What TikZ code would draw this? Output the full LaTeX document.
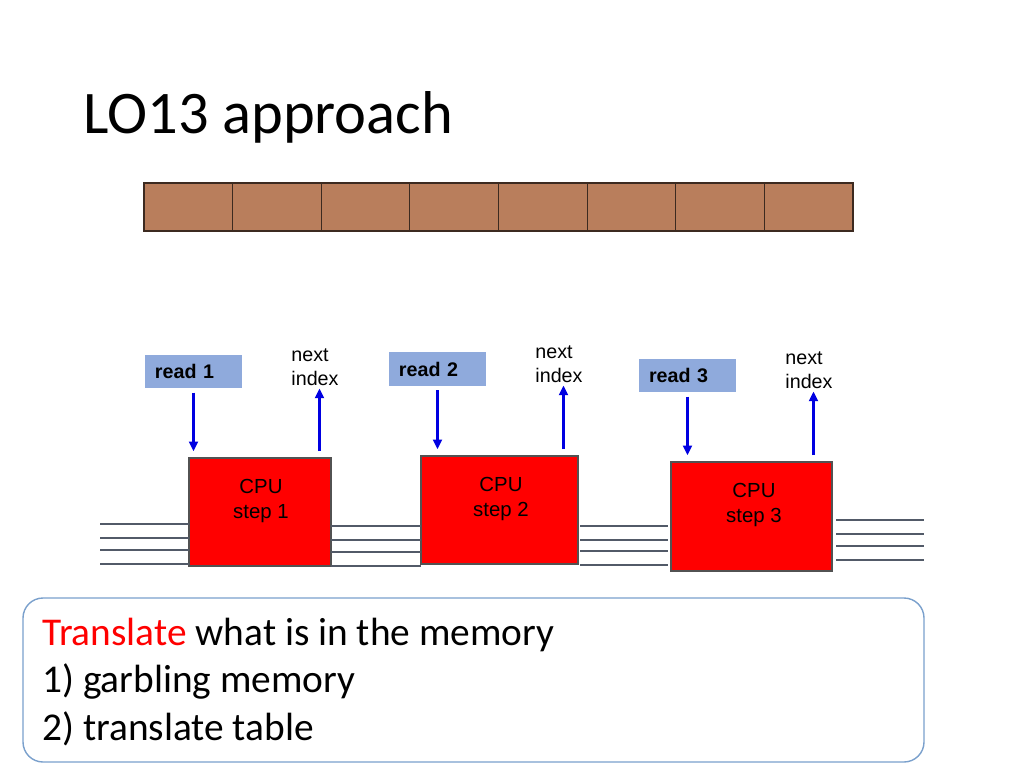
\documentclass[tikz,border=0pt]{standalone}
\usepackage{fontspec}
\setmainfont{Carlito}
\newfontfamily\arialfont{Liberation Sans}
\usetikzlibrary{arrows.meta}
\definecolor{cellbrown}{RGB}{185,126,92}
\definecolor{celledge}{RGB}{60,42,32}
\definecolor{readblue}{RGB}{143,170,220}
\definecolor{arrowblue}{RGB}{0,0,225}
\definecolor{busgray}{RGB}{82,90,104}
\definecolor{noteblue}{RGB}{122,160,204}

\begin{document}
\begin{tikzpicture}[x=0.025cm,y=-0.025cm,
  readbox/.style={fill=readblue,inner xsep=0.25cm,inner ysep=0pt,text width=1.925cm,
    align=left,minimum height=0.825cm,font=\arialfont\bfseries\fontsize{14}{17}\selectfont},
  cpubox/.style={fill=red,draw=black!68,line width=1.6pt,minimum height=2.7cm},
  cputext/.style={align=center,inner sep=0pt,font=\arialfont\fontsize{14.5}{17.7}\selectfont},
  nexttext/.style={align=left,inner sep=0pt,font=\arialfont\fontsize{14}{17}\selectfont},
  flow/.style={draw=arrowblue,line width=1.7pt,-{Triangle[length=2.4mm,width=2.2mm,fill=arrowblue]}},
  bus/.style={busgray,line width=1.1pt},
  noteline/.style={anchor=base west,inner sep=0pt,font=\fontsize{28}{33.5}\selectfont}]
  \useasboundingbox (0,0) rectangle (1024,768);
  \node[anchor=base west,inner sep=0pt,font=\fontsize{43}{50}\selectfont] (title) at (83,134) {LO13 approach};
  % memory cells
  \foreach \i in {0,...,7}
    \draw[fill=cellbrown,draw=celledge,line width=0.8pt] ({144+88.625*\i},183) rectangle ({144+88.625*(\i+1)},231);
  % reads
  \node[readbox] (r1) at (193.5,371.5) {read 1};
  \node[readbox] (r2) at (437.5,369) {read 2};
  \node[readbox] (r3) at (687.5,375.5) {read 3};
  \node[nexttext] (n1) at (315,367) {next\\index};
  \node[nexttext] (n2) at (559,364) {next\\index};
  \node[nexttext] (n3) at (809,370) {next\\index};
  % cpu steps
  \node[cpubox,minimum width=3.55cm] (c1) at (260,512) {};
  \node[cpubox,minimum width=3.925cm] (c2) at (499.5,510) {};
  \node[cpubox,minimum width=4.025cm,minimum height=2.725cm] (c3) at (751.5,516.5) {};
  \node[cputext] (t1) at (261,501) {CPU\\step 1};
  \node[cputext] (t2) at (501,499) {CPU\\step 2};
  \node[cputext] (t3) at (754,505) {CPU\\step 3};
  \foreach \k in {1,2,3} {
    \draw[flow,shorten <=3pt,shorten >=4pt] (r\k) -- (r\k |- c\k.north);
    \draw[flow,shorten <=4pt,shorten >=2pt] ([xshift=3.2pt]n\k.south |- c\k.north) -- ([xshift=3.2pt]n\k.south);
  }
  % bus lines
  \foreach \y in {524,538,550,564} \draw[bus] (100,\y) -- (189,\y);
  \foreach \y in {526,540,552,566} \draw[bus] (331,\y) -- (421,\y);
  \foreach \y in {526,540,551,565} \draw[bus] (580,\y) -- (668,\y);
  \foreach \y in {520,534,546,560} \draw[bus] (836,\y) -- (924,\y);
  % note
  \draw[noteblue,line width=1pt,rounded corners=0.5cm] (23,598) rectangle (924,762);
  \node[noteline] (l1) at (42,645) {\textcolor{red}{Translate} what is in the memory};
  \node[noteline] (l2) at (42,692) {1) garbling memory};
  \node[noteline] (l3) at (42,740) {2) translate table};
\end{tikzpicture}
\end{document}
